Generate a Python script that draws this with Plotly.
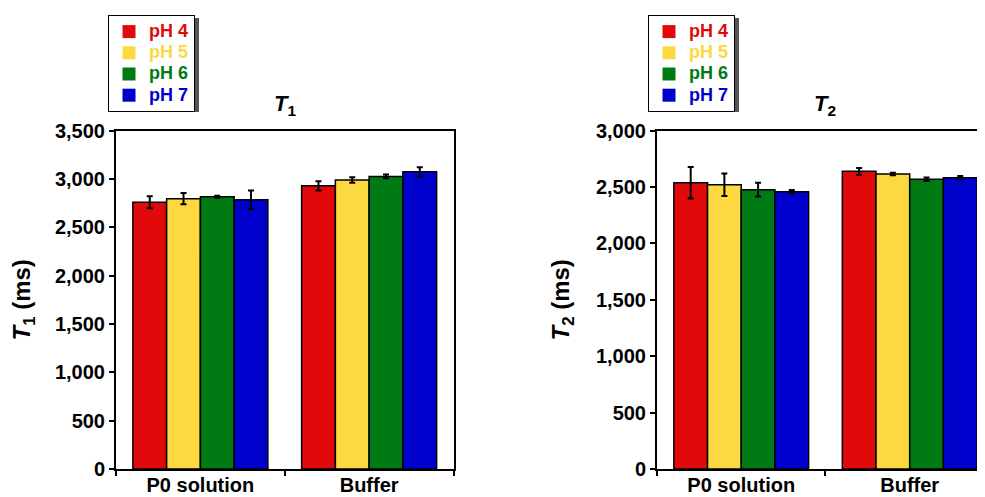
import plotly.graph_objects as go

categories = ["P0 solution", "Buffer"]
series_names = ["pH 4", "pH 5", "pH 6", "pH 7"]
colors = ["#E00A0A", "#FDD840", "#007A12", "#0000CD"]

t1_values = {
    "pH 4": [2760, 2930],
    "pH 5": [2797, 2990],
    "pH 6": [2817, 3027],
    "pH 7": [2786, 3075],
}
t1_errors = {
    "pH 4": [62, 48],
    "pH 5": [58, 29],
    "pH 6": [10, 20],
    "pH 7": [96, 48],
}
t2_values = {
    "pH 4": [2539, 2640],
    "pH 5": [2521, 2616],
    "pH 6": [2477, 2569],
    "pH 7": [2459, 2583],
}
t2_errors = {
    "pH 4": [140, 30],
    "pH 5": [99, 10],
    "pH 6": [61, 15],
    "pH 7": [15, 15],
}

FONT = "Liberation Sans, Arial, sans-serif"
OFF = 8  # page body margin
W, H = 985 - OFF, 497 - OFF

fig = go.Figure()

def add_panel(values, errors, xa, ya, legend):
    for name, col in zip(series_names, colors):
        fig.add_trace(go.Bar(
            x=categories, y=values[name], name=name,
            marker=dict(color=col, line=dict(color="black", width=1.5)),
            error_y=dict(type="data", array=errors[name], color="black",
                         thickness=2, width=3),
            xaxis=xa, yaxis=ya, showlegend=False,
        ))
    for name, col in zip(series_names, colors):
        fig.add_trace(go.Scatter(
            x=[None], y=[None], mode="markers",
            name=f'<span style="font-size:18px;color:{col}"><b>{name}</b></span>',
            marker=dict(symbol="square", size=13, color=col),
            xaxis=xa, yaxis=ya, legend=legend, showlegend=True,
        ))

add_panel(t1_values, t1_errors, "x", "y", "legend")
add_panel(t2_values, t2_errors, "x2", "y2", "legend2")

def px_x(p):
    return (p - OFF) / W

def px_y(p):
    return 1 - (p - OFF) / H

ydom = [px_y(469), px_y(130.7)]

axis_common = dict(
    showline=True, linecolor="black", linewidth=2, mirror=True,
    ticks="outside", ticklen=5, tickwidth=2, tickcolor="black",
    showgrid=False, zeroline=False, automargin=False,
)

TICKX = dict(size=20, family=FONT, weight="bold")
TICKY = dict(size=20, family=FONT, weight="bold")

x2_right = 985

shadows = []
for lx in (108, 648):
    shadows.append(dict(type="rect", xref="paper", yref="paper", layer="below",
                        x0=px_x(lx + 3), x1=px_x(lx + 91), y0=px_y(112), y1=px_y(18),
                        fillcolor="#555555", line=dict(width=0)))

fig.update_layout(
    width=W, height=H,
    margin=dict(l=0, r=0, t=0, b=0, autoexpand=False),
    paper_bgcolor="white", plot_bgcolor="white",
    barmode="group", bargap=0.2, bargroupgap=0,
    font=dict(family=FONT, color="black"),
    xaxis=dict(domain=[px_x(116), px_x(453.5)], range=[-0.5, 1.5],
               tickson="boundaries", anchor="y", ticklabelstandoff=-3,
               tickfont=TICKX, **axis_common),
    yaxis=dict(domain=ydom, range=[0, 3500], dtick=500, tickformat=",",
               anchor="x", tickfont=TICKY,
               title=dict(text="<b><i>T</i><sub>1</sub> (ms)</b>",
                          font=dict(size=24, family=FONT), standoff=20),
               **axis_common),
    xaxis2=dict(domain=[px_x(657), 1.0], range=[-0.5, 1.447],
                tickson="boundaries", anchor="y2", ticklabelstandoff=-3,
                tickfont=TICKX, **axis_common),
    yaxis2=dict(domain=ydom, range=[0, 3000], dtick=500, tickformat=",",
                anchor="x2", tickfont=TICKY,
                title=dict(text="<b><i>T</i><sub>2</sub> (ms)</b>",
                           font=dict(size=24, family=FONT), standoff=20),
                **axis_common),
    legend=dict(x=px_x(108), y=px_y(15), xanchor="left", yanchor="top",
                bgcolor="white", bordercolor="black", borderwidth=1,
                font=dict(size=14, family=FONT), itemwidth=30,
                tracegroupgap=0),
    legend2=dict(x=px_x(648), y=px_y(15), xanchor="left", yanchor="top",
                 bgcolor="white", bordercolor="black", borderwidth=1,
                 font=dict(size=14, family=FONT), itemwidth=30,
                 tracegroupgap=0),
    shapes=shadows,
    annotations=[
        dict(text="<b><i>T</i><sub>1</sub></b>", xref="x domain", yref="y domain",
             x=0.5, y=1.0, yshift=10, xanchor="center", yanchor="bottom",
             showarrow=False, font=dict(size=22, family=FONT)),
        dict(text="<b><i>T</i><sub>2</sub></b>", xref="x2 domain", yref="y2 domain",
             x=0.5 * (993.5 - 657) / (x2_right - 657),
             y=1.0, yshift=10, xanchor="center", yanchor="bottom",
             showarrow=False, font=dict(size=22, family=FONT)),
    ],
)

fig.write_html("out.html")
